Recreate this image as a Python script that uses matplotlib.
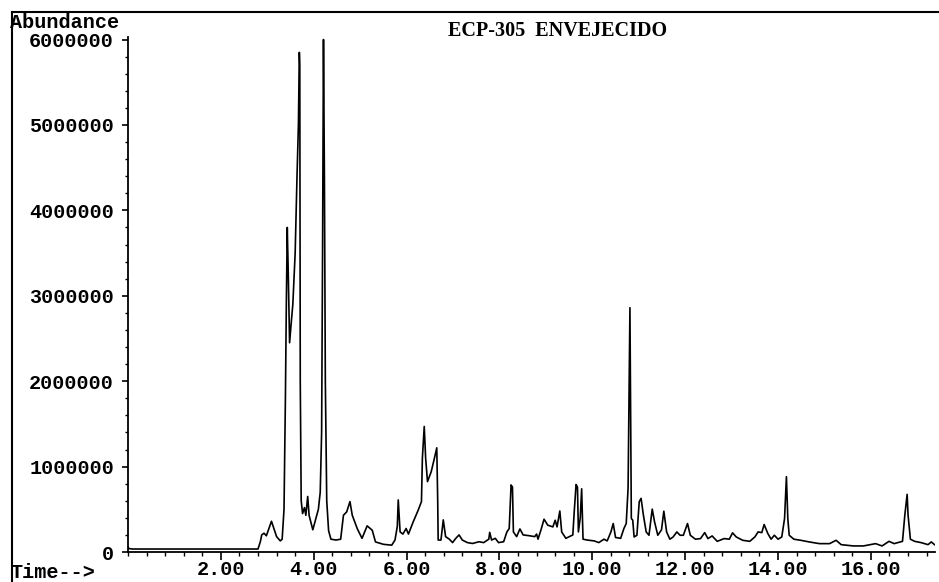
import matplotlib
matplotlib.use("Agg")
import matplotlib.pyplot as plt
from matplotlib.ticker import MultipleLocator, FixedLocator
from matplotlib.lines import Line2D

# retention time (min) and abundance
time = [0.0, 0.02, 0.1, 1.0, 2.0, 2.80, 2.85, 2.88, 2.93, 2.98, 3.05, 3.09, 3.14, 3.20, 3.28,
        3.32, 3.36, 3.39, 3.41, 3.43, 3.45, 3.48, 3.51, 3.55, 3.60, 3.64, 3.67, 3.69, 3.70,
        3.71, 3.73, 3.76, 3.80, 3.83, 3.87, 3.90, 3.98, 4.05, 4.10, 4.14, 4.17, 4.19, 4.21,
        4.23, 4.25, 4.28, 4.32, 4.37, 4.48, 4.58, 4.64, 4.71, 4.78, 4.83, 4.94, 5.04, 5.15,
        5.26, 5.33, 5.50, 5.68, 5.75, 5.80, 5.82, 5.86, 5.92, 5.99, 6.04, 6.14, 6.25, 6.32,
        6.34, 6.38, 6.41, 6.45, 6.53, 6.60, 6.65, 6.67, 6.68, 6.74, 6.79, 6.84, 6.92, 6.99,
        7.06, 7.13, 7.20, 7.31, 7.42, 7.56, 7.66, 7.77, 7.79, 7.83, 7.91, 7.98, 8.09, 8.16,
        8.21, 8.25, 8.28, 8.30, 8.37, 8.44, 8.51, 8.65, 8.76, 8.80, 8.83, 8.90, 8.96, 9.04,
        9.15, 9.20, 9.24, 9.30, 9.34, 9.43, 9.58, 9.61, 9.65, 9.68, 9.70, 9.74, 9.77, 9.80,
        9.89, 10.04, 10.14, 10.25, 10.32, 10.40, 10.45, 10.50, 10.61, 10.68, 10.73, 10.77,
        10.81, 10.84, 10.87, 10.90, 10.96, 11.01, 11.05, 11.10, 11.16, 11.22, 11.29, 11.34,
        11.41, 11.49, 11.54, 11.60, 11.67, 11.74, 11.82, 11.89, 11.96, 12.05, 12.11, 12.22,
        12.33, 12.42, 12.49, 12.58, 12.69, 12.84, 12.95, 13.02, 13.10, 13.24, 13.39, 13.50,
        13.57, 13.65, 13.70, 13.78, 13.85, 13.92, 14.00, 14.08, 14.14, 14.18, 14.21, 14.24,
        14.34, 14.49, 14.67, 14.89, 15.11, 15.25, 15.36, 15.62, 15.84, 16.10, 16.24, 16.39,
        16.50, 16.68, 16.73, 16.78, 16.80, 16.85, 16.94, 17.08, 17.23, 17.30, 17.37]

abundance = [60e3, 40e3, 35e3, 35e3, 35e3, 35e3, 120e3, 200e3, 220e3, 190e3, 300e3, 360e3, 280e3,
             180e3, 130e3, 150e3, 500e3, 1.8e6, 2.9e6, 3.8e6, 3.3e6, 2.45e6, 2.65e6, 2.9e6, 3.5e6,
             4.4e6, 5.0e6, 5.85e6, 5.7e6, 2.0e6, 600e3, 450e3, 520e3, 430e3, 650e3, 430e3, 260e3,
             400e3, 500e3, 700e3, 1.4e6, 3.5e6, 6.0e6, 4.4e6, 2.0e6, 600e3, 250e3, 150e3, 140e3,
             150e3, 430e3, 470e3, 590e3, 430e3, 270e3, 160e3, 306e3, 255e3, 118e3, 90e3, 80e3,
             140e3, 300e3, 610e3, 235e3, 210e3, 275e3, 210e3, 350e3, 490e3, 590e3, 1.1e6, 1.47e6,
             1.1e6, 824e3, 940e3, 1.1e6, 1.22e6, 600e3, 140e3, 140e3, 376e3, 180e3, 150e3, 110e3,
             160e3, 200e3, 140e3, 110e3, 100e3, 120e3, 110e3, 150e3, 230e3, 140e3, 160e3, 110e3,
             120e3, 235e3, 275e3, 785e3, 760e3, 235e3, 180e3, 270e3, 200e3, 190e3, 180e3, 210e3,
             150e3, 270e3, 384e3, 314e3, 294e3, 372e3, 294e3, 480e3, 235e3, 160e3, 200e3, 470e3,
             790e3, 760e3, 235e3, 400e3, 740e3, 150e3, 140e3, 130e3, 110e3, 150e3, 130e3, 235e3,
             333e3, 170e3, 160e3, 275e3, 333e3, 745e3, 2.86e6, 392e3, 373e3, 176e3, 196e3, 588e3,
             628e3, 431e3, 235e3, 196e3, 502e3, 353e3, 196e3, 260e3, 478e3, 235e3, 150e3, 176e3,
             235e3, 196e3, 196e3, 333e3, 196e3, 150e3, 157e3, 227e3, 157e3, 188e3, 125e3, 157e3,
             150e3, 224e3, 176e3, 137e3, 125e3, 176e3, 235e3, 227e3, 322e3, 216e3, 150e3, 196e3,
             150e3, 176e3, 392e3, 882e3, 392e3, 196e3, 150e3, 137e3, 118e3, 98e3, 98e3, 137e3,
             86e3, 71e3, 71e3, 98e3, 71e3, 125e3, 98e3, 125e3, 431e3, 675e3, 431e3, 150e3, 125e3,
             110e3, 86e3, 118e3, 86e3]

x_ticks = [2, 4, 6, 8, 10, 12, 14, 16]
x_labels = ["2.00", "4.00", "6.00", "8.00", "10.00", "12.00", "14.00", "16.00"]
y_ticks = [0, 1000000, 2000000, 3000000, 4000000, 5000000, 6000000]
title = "ECP-305  ENVEJECIDO"

W, H = 939, 582
fig = plt.figure(figsize=(W / 100, H / 100), dpi=100)
ax = fig.add_axes([128 / W, 1 - 552 / H, (935 - 128) / W, (552 - 37) / H])

ax.plot(time, abundance, color="black", lw=1.2)

ax.set_xlim(0, 17.38)
ax.set_ylim(0, 6.03e6)
for s in ("top", "right"):
    ax.spines[s].set_visible(False)
for s in ("left", "bottom"):
    ax.spines[s].set_linewidth(1.3)

mono = "Liberation Mono"
fs = 14.5
ax.xaxis.set_major_locator(FixedLocator(x_ticks))
ax.set_xticklabels(x_labels, fontfamily=mono, fontweight="bold", fontsize=fs)
ax.xaxis.set_minor_locator(MultipleLocator(0.4))
ax.yaxis.set_major_locator(FixedLocator(y_ticks))
ax.set_yticklabels([str(v) for v in y_ticks], fontfamily=mono, fontweight="bold", fontsize=fs)
ax.yaxis.set_minor_locator(MultipleLocator(200000))
ax.tick_params(axis="x", which="major", length=6, width=1.2, pad=0)
ax.tick_params(axis="x", which="minor", length=3, width=1)
ax.tick_params(axis="y", which="major", length=4, width=1.2, pad=6)
ax.tick_params(axis="y", which="minor", length=2.5, width=1)

fig.text(10 / W, 1 - 23 / H, "Abundance", fontfamily=mono, fontweight="bold",
         fontsize=fs, ha="left", va="center")
fig.text(10 / W, 1 - 572 / H, "Time-->", fontfamily=mono, fontweight="bold",
         fontsize=fs, ha="left", va="center")
fig.text(558 / W, 1 - 31 / H, title, fontfamily="Liberation Serif", fontweight="bold",
         fontsize=14.5, ha="center", va="center")

# edges of the scanned page
fig.add_artist(Line2D([12 / W, 1], [1 - 12 / H, 1 - 12 / H], color="black", lw=1.5))
fig.add_artist(Line2D([12 / W, 12 / W], [1 - 12 / H, 0], color="black", lw=1.5))

fig.savefig("out.png", dpi=100)
